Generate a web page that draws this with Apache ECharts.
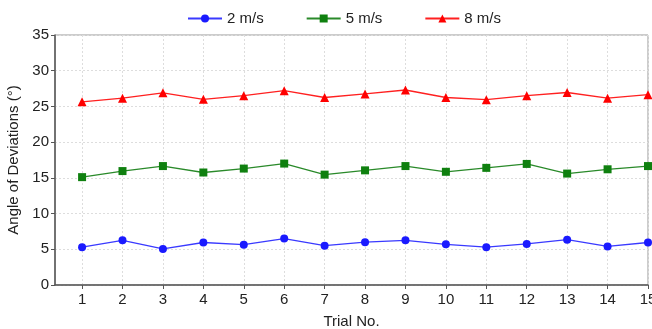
<!DOCTYPE html>
<html>
<head>
<meta charset="utf-8">
<script src="https://cdn.jsdelivr.net/npm/echarts@6/dist/echarts.min.js"></script>
<style>
  html, body { margin: 0; padding: 0; background: #fff; }
  #main { width: 652px; height: 329px; }
</style>
</head>
<body>
<div id="main"></div>
<script>
var trials = [1, 2, 3, 4, 5, 6, 7, 8, 9, 10, 11, 12, 13, 14, 15];
var speed2 = [5.3, 6.25, 5.05, 5.95, 5.65, 6.5, 5.5, 6.0, 6.25, 5.7, 5.3, 5.75, 6.35, 5.4, 5.95];
var speed5 = [15.1, 15.95, 16.65, 15.75, 16.3, 17.0, 15.45, 16.05, 16.65, 15.85, 16.4, 16.95, 15.6, 16.2, 16.65];
var speed8 = [25.65, 26.15, 26.9, 26.0, 26.5, 27.2, 26.25, 26.75, 27.3, 26.25, 25.95, 26.5, 26.95, 26.15, 26.65];
var seriesNames = ['2 m/s', '5 m/s', '8 m/s'];

function pairs(vals) {
  return vals.map(function (v, i) { return [trials[i], v]; });
}

var myChart = echarts.init(document.getElementById('main'));
var font = 'Liberation Sans, Arial, sans-serif';

myChart.setOption({
  animation: false,
  textStyle: { fontFamily: font },
  legend: {
    top: 6,
    left: 182,
    itemGap: 42,
    itemWidth: 34,
    itemHeight: 10,
    textStyle: { fontSize: 15, color: '#222', fontFamily: font },
    data: seriesNames
  },
  grid: {
    left: 55, right: 4, top: 35, bottom: 44,
    outerBoundsMode: 'none',
    show: true, borderColor: '#999', borderWidth: 1
  },
  xAxis: {
    type: 'value',
    min: 0.33,
    max: 15,
    name: 'Trial No.',
    nameLocation: 'middle',
    nameGap: 29,
    nameTextStyle: { fontSize: 15, color: '#222' },
    axisLine: { lineStyle: { color: '#555', width: 1.5 } },
    axisTick: { show: true, length: 4, customValues: trials, lineStyle: { color: '#555' } },
    axisLabel: { customValues: trials, fontSize: 15, color: '#222', margin: 7 },
    splitLine: { show: true, lineStyle: { color: '#ddd', type: [2, 2] } }
  },
  yAxis: {
    type: 'value',
    min: 0,
    max: 35,
    interval: 5,
    name: 'Angle of Deviations (°)',
    nameLocation: 'middle',
    nameGap: 27,
    nameTextStyle: { fontSize: 15, color: '#222' },
    axisLine: { show: true, lineStyle: { color: '#555', width: 1.5 } },
    axisTick: { show: true, length: 4, lineStyle: { color: '#555' } },
    axisLabel: { fontSize: 15, color: '#222', margin: 6 },
    splitLine: { show: true, lineStyle: { color: '#ddd', type: [2, 2] } }
  },
  series: [
    {
      name: seriesNames[0], type: 'line', data: pairs(speed2),
      symbol: 'circle', symbolSize: 8,
      itemStyle: { color: '#1a1aff' }, lineStyle: { color: '#3a3aff', width: 1.3 }
    },
    {
      name: seriesNames[1], type: 'line', data: pairs(speed5),
      symbol: 'rect', symbolSize: 8,
      itemStyle: { color: '#0f800f' }, lineStyle: { color: '#2a8a2a', width: 1.3 }
    },
    {
      name: seriesNames[2], type: 'line', data: pairs(speed8),
      symbol: 'triangle', symbolSize: 9,
      itemStyle: { color: '#ff0000' }, lineStyle: { color: '#ff2020', width: 1.3 }
    }
  ]
});
</script>
</body>
</html>
